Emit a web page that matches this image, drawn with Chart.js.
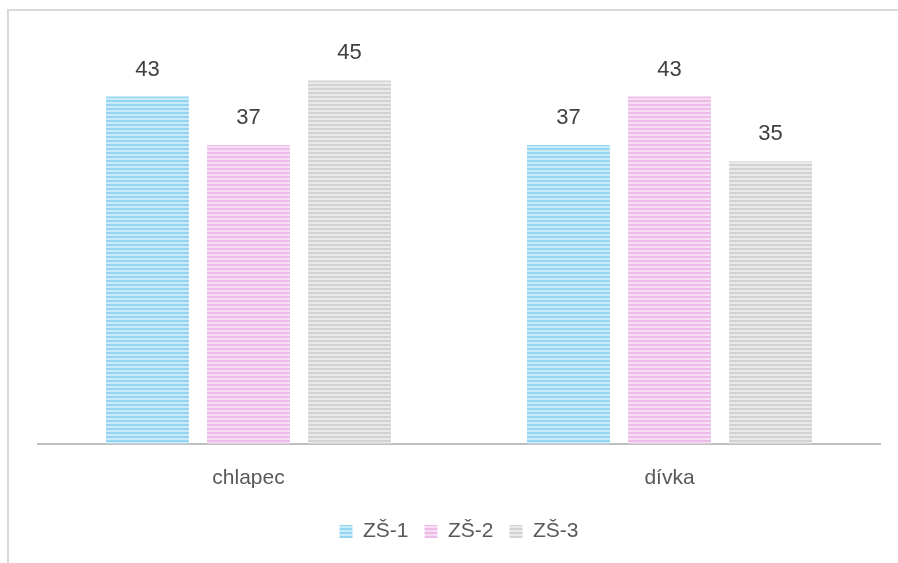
<!DOCTYPE html>
<html>
<head>
<meta charset="utf-8">
<script src="https://cdn.jsdelivr.net/npm/chart.js@4/dist/chart.umd.min.js"></script>
<style>
  html, body { margin: 0; padding: 0; background: #fff; }
  #wrap { width: 898px; height: 563px; position: relative; }
</style>
</head>
<body>
<div id="wrap"><canvas id="chart" width="898" height="563"></canvas></div>
<script>
// data
const categories = ['chlapec', 'dívka'];
const seriesNames = ['ZŠ-1', 'ZŠ-2', 'ZŠ-3'];
const zs1 = [43, 37];
const zs2 = [37, 43];
const zs3 = [45, 35];

const FONT = '"Liberation Sans", Arial, sans-serif';

// pruhovaná výplň sloupců
function stripes(dark, light) {
    const c = document.createElement('canvas');
    c.width = 4;
    c.height = 4;
    const g = c.getContext('2d');
    g.fillStyle = dark;
    g.fillRect(0, 0, 4, 4);
    g.fillStyle = light;
    g.fillRect(0, 2, 4, 2);
    return g.createPattern(c, 'repeat');
}

const fills = [
    stripes('#95d5f1', '#c9ebf9'),
    stripes('#ecbbe8', '#f6ddf3'),
    stripes('#d3d3d3', '#e9e9e9')
];

// rámeček nahoře a vlevo
const framePlugin = {
    id: 'frame',
    beforeDraw(chart) {
        const ctx = chart.ctx;
        ctx.save();
        ctx.fillStyle = '#d9d9d9';
        ctx.fillRect(7, 9, 898, 2);
        ctx.fillRect(7, 9, 2, 563);
        ctx.restore();
    }
};

// hodnoty nad sloupci
const valueLabels = {
    id: 'valueLabels',
    afterDatasetsDraw(chart) {
        const ctx = chart.ctx;
        ctx.save();
        ctx.font = '22px ' + FONT;
        ctx.fillStyle = '#404040';
        ctx.textAlign = 'center';
        ctx.textBaseline = 'middle';
        chart.data.datasets.forEach((ds, i) => {
            chart.getDatasetMeta(i).data.forEach((bar, j) => {
                ctx.fillText(ds.data[j], bar.x, bar.y - 27);
            });
        });
        ctx.restore();
    }
};

const values = [zs1, zs2, zs3];

new Chart(document.getElementById('chart').getContext('2d'), {
    type: 'bar',
    data: {
        labels: categories,
        datasets: seriesNames.map((name, i) => ({
            label: name,
            data: values[i],
            backgroundColor: fills[i],
            borderWidth: 0
        }))
    },
    options: {
        responsive: false,
        animation: false,
        categoryPercentage: 0.72,
        barPercentage: 0.82,
        layout: {
            padding: { left: 38, right: 18, top: 40, bottom: 11 }
        },
        plugins: {
            legend: {
                position: 'bottom',
                labels: {
                    boxWidth: 13,
                    boxHeight: 13,
                    padding: 16,
                    color: '#595959',
                    font: { size: 21, family: FONT }
                }
            },
            tooltip: { enabled: false }
        },
        scales: {
            x: {
                grid: { display: false },
                border: { color: '#bfbfbf', width: 2 },
                ticks: {
                    color: '#595959',
                    padding: 14,
                    font: { size: 21, family: FONT }
                }
            },
            y: {
                display: false,
                min: 0,
                max: 50
            }
        }
    },
    plugins: [framePlugin, valueLabels]
});
</script>
</body>
</html>
